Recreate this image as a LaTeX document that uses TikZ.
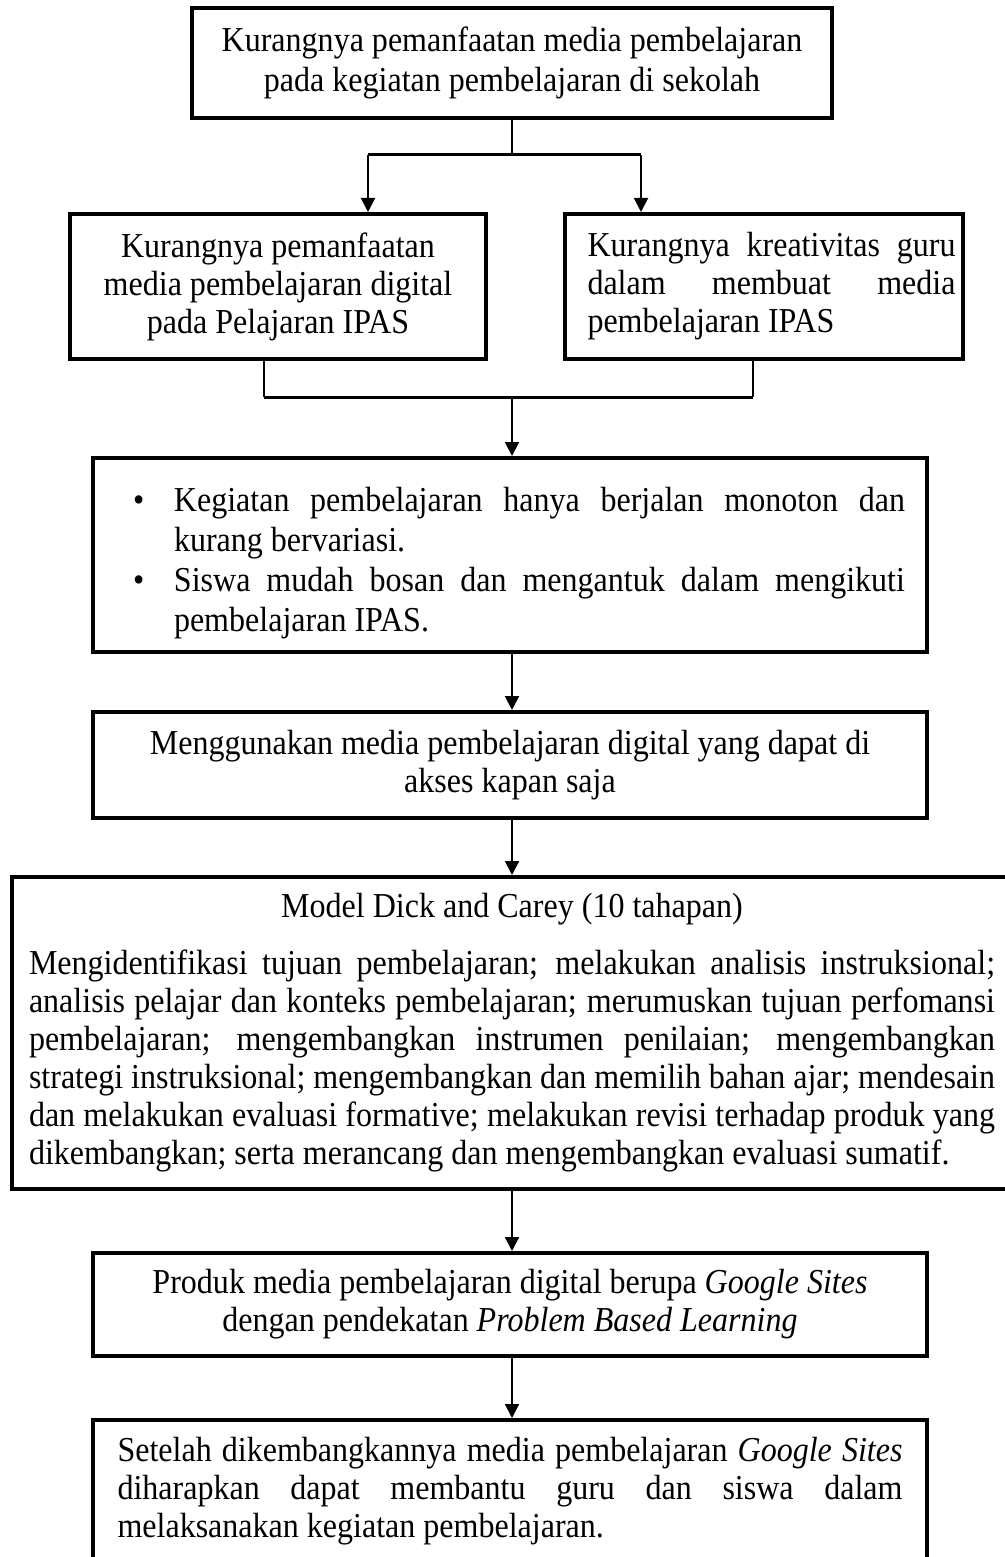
\documentclass[tikz,border=0pt]{standalone}
\usepackage{fontspec}
\setmainfont{Liberation Serif}[FakeStretch=0.915]
\usetikzlibrary{arrows.meta}
\setlength{\parindent}{0pt}
\hyphenpenalty=10000
\exhyphenpenalty=10000
\newcommand\butir[1]{\par\leftskip=9pt\hangindent=20.5pt\hangafter=1\makebox[20.5pt][l]{\textbullet}#1\par}

\begin{document}
\begin{tikzpicture}[x=0.5pt, y=-0.5pt,
  kotak/.style={draw, line width=2pt, inner sep=0pt, font=\fontsize{17.5}{19}\selectfont},
  garis/.style={line width=1pt},
  panah/.style={-{Triangle[length=7pt,width=7pt]}, line width=1pt}]
\useasboundingbox (0,0) rectangle (1005,1557);
\clip (0,0) rectangle (1005,1557);
\node[kotak, align=center, minimum width=320pt, minimum height=55pt, font=\fontsize{17.5}{20}\selectfont] (akar) at (512,63) {Kurangnya pemanfaatan media pembelajaran\\pada kegiatan pembelajaran di sekolah};
\node[kotak, align=center, minimum width=208pt, minimum height=72.5pt] (kiri) at (278,286.5) {Kurangnya pemanfaatan\\media pembelajaran digital\\pada Pelajaran IPAS};
\node[kotak, minimum width=199pt, minimum height=72.5pt] (kanan) at (764,286.5) {\hspace{7.5pt}\parbox{184pt}{Kurangnya kreativitas guru\linebreak dalam membuat media\linebreak pembelajaran IPAS}};
\node[kotak, text width=395pt, align=justify, minimum width=417pt, minimum height=97pt, font=\fontsize{17.5}{20}\selectfont] (masalah) at (510,555) {\butir{Kegiatan pembelajaran hanya berjalan monoton dan\linebreak kurang bervariasi.}\butir{Siswa mudah bosan dan mengantuk dalam mengikuti\linebreak pembelajaran IPAS.}};
\node[kotak, align=center, minimum width=417pt, minimum height=53pt] (solusi) at (510,765) {Menggunakan media pembelajaran digital yang dapat di\\akses kapan saja};
\node[kotak, text width=483pt, align=justify, minimum width=500pt, minimum height=156pt] (model) at (512,1033) {{\centering Model Dick and Carey (10 tahapan)\par}\vspace{9.5pt}Mengidentifikasi tujuan pembelajaran; melakukan analisis instruksional;\linebreak analisis pelajar dan konteks pembelajaran; merumuskan tujuan perfomansi\linebreak pembelajaran; mengembangkan instrumen penilaian; mengembangkan\linebreak strategi instruksional; mengembangkan dan memilih bahan ajar; mendesain\linebreak dan melakukan evaluasi formative; melakukan revisi terhadap produk yang\linebreak dikembangkan; serta merancang dan mengembangkan evaluasi sumatif.};
\node[kotak, align=center, minimum width=417pt, minimum height=51.5pt] (produk) at (510,1304.5) {Produk media pembelajaran digital berupa \textit{Google Sites}\\dengan pendekatan \textit{Problem Based Learning}};
\node[kotak, anchor=north, text width=392.5pt, align=justify, minimum width=417pt, inner ysep=8.5pt, text depth=50pt] (harapan) at (510,1418) {Setelah dikembangkannya media pembelajaran \textit{Google Sites}\linebreak diharapkan dapat membantu guru dan siswa dalam\linebreak melaksanakan kegiatan pembelajaran.};
\coordinate (cabang) at (512,155);
\coordinate (cabangkiri) at (368,155);
\coordinate (cabangkanan) at (641,155);
\coordinate (gabungkiri) at (264,397);
\coordinate (gabungkanan) at (753,397);
\coordinate (gabung) at (512,397);
\draw[garis] (akar) -- (cabang);
\draw[garis, line width=1.5pt] (cabangkiri) -- (cabangkanan);
\draw[panah] (cabangkiri) -- (cabangkiri |- kiri.north);
\draw[panah] (cabangkanan) -- (cabangkanan |- kanan.north);
\draw[garis] (kiri.south -| gabungkiri) -- (gabungkiri);
\draw[garis] (kanan.south -| gabungkanan) -- (gabungkanan);
\draw[garis, line width=1.5pt] (gabungkiri) -- (gabungkanan);
\draw[panah] (gabung) -- (gabung |- masalah.north);
\draw[panah] (masalah.south -| gabung) -- (solusi.north -| gabung);
\draw[panah] (solusi.south -| gabung) -- (model.north -| gabung);
\draw[panah] (model.south -| gabung) -- (produk.north -| gabung);
\draw[panah] (produk.south -| gabung) -- (harapan.north -| gabung);
\end{tikzpicture}
\end{document}
